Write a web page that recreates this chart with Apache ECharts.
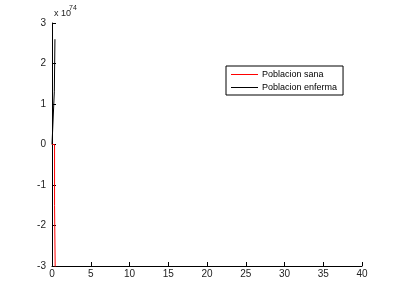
<!DOCTYPE html>
<html><head><meta charset="utf-8">
<script src="https://cdn.jsdelivr.net/npm/echarts@6/dist/echarts.min.js"></script>
<style>html,body{margin:0;padding:0;background:#fff}#c{width:400px;height:299px}</style>
</head><body><div id="c"></div>
<script>
// values in units of 1e74
var sanaT = [0, 0.1, 0.33, 0.33, 0.46, 0.46];
var sanaY = [0, 0, 0, -1.5, -1.5, -4];
var enfT = [0, 0.1, 0.3, 0.38, 0.38];
var enfY = [0, 0, 1.3, 1.32, 2.6];
var xTicks = [0, 5, 10, 15, 20, 25, 30, 35, 40];
var yTicks = [-3, -2, -1, 0, 1, 2, 3];
var names = ['Poblacion sana', 'Poblacion enferma'];

function pairs(t, y) { return t.map(function (v, i) { return [v, y[i]]; }); }

var chart = echarts.init(document.getElementById('c'), null, {renderer: 'canvas'});
var font = 'Liberation Sans, Arial, sans-serif';
chart.setOption({
  animation: false,
  grid: {left: 52, right: 38, top: 23, bottom: 33, containLabel: false},
  xAxis: {
    type: 'value', min: xTicks[0], max: xTicks[xTicks.length - 1], interval: 5,
    axisLine: {onZero: false, lineStyle: {color: '#000', width: 1}},
    axisTick: {inside: true, length: 4, lineStyle: {color: '#000'}},
    axisLabel: {color: '#222', fontSize: 10, fontFamily: font, margin: 3},
    splitLine: {show: false}
  },
  yAxis: {
    type: 'value', min: yTicks[0], max: yTicks[yTicks.length - 1], interval: 1,
    axisLine: {show: true, onZero: false, lineStyle: {color: '#000', width: 1}},
    axisTick: {show: true, inside: true, length: 4, lineStyle: {color: '#000'}},
    axisLabel: {color: '#222', fontSize: 10, fontFamily: font, margin: 6},
    splitLine: {show: false}
  },
  legend: {
    left: 226, top: 66, orient: 'vertical',
    borderColor: '#000', borderWidth: 1, padding: [4, 6, 3, 5],
    itemGap: 4, itemWidth: 27, itemHeight: 1, icon: 'rect',
    textStyle: {fontSize: 9, fontFamily: font, color: '#000', padding: [0, 0, 0, -1]},
    data: names
  },
  graphic: [
    {type: 'text', left: 54, top: 9, style: {text: 'x 10', fontSize: 9, fontFamily: font, fill: '#222'}},
    {type: 'text', left: 69, top: 5, style: {text: '74', fontSize: 7, fontFamily: font, fill: '#222'}}
  ],
  series: [
    {name: names[0], type: 'line', data: pairs(sanaT, sanaY), showSymbol: false, symbol: 'none',
     lineStyle: {color: '#ff0000', width: 1}, itemStyle: {color: '#ff0000'}, clip: true},
    {name: names[1], type: 'line', data: pairs(enfT, enfY), showSymbol: false, symbol: 'none',
     lineStyle: {color: '#000', width: 1}, itemStyle: {color: '#000'}, clip: true}
  ]
});
</script></body></html>
